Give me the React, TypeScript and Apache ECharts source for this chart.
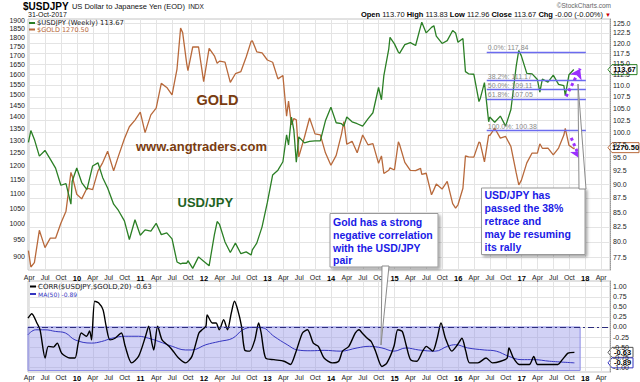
import React, { useEffect, useRef } from 'react';
import * as echarts from 'echarts';

const FONT = '"Liberation Sans", Arial, sans-serif';
const MONO = '"DejaVu Sans", Verdana, sans-serif';

// Weekly/month-end closes (USD/JPY and Gold)
const DATES = [
  '2009-03-27', '2009-04-10', '2009-04-30', '2009-05-29', '2009-06-30', '2009-07-31', '2009-08-31', '2009-09-30',
  '2009-10-30', '2009-11-27', '2009-12-04', '2009-12-31', '2010-01-29', '2010-02-26', '2010-03-31', '2010-04-30',
  '2010-05-28', '2010-06-25', '2010-07-30', '2010-08-27', '2010-09-30', '2010-10-29', '2010-11-30', '2010-12-31',
  '2011-01-28', '2011-02-28', '2011-03-31', '2011-04-29', '2011-05-31', '2011-06-30', '2011-07-29', '2011-08-19',
  '2011-08-31', '2011-09-23', '2011-09-30', '2011-10-28', '2011-11-30', '2011-12-30', '2012-01-31', '2012-02-29',
  '2012-03-16', '2012-03-30', '2012-04-30', '2012-05-31', '2012-06-29', '2012-07-31', '2012-08-31', '2012-09-28',
  '2012-10-05', '2012-10-31', '2012-11-30', '2012-12-31', '2013-01-31', '2013-02-28', '2013-03-29', '2013-04-19',
  '2013-04-30', '2013-05-17', '2013-05-31', '2013-06-14', '2013-06-28', '2013-07-31', '2013-08-30', '2013-09-30',
  '2013-10-31', '2013-11-29', '2013-12-31', '2014-01-31', '2014-02-28', '2014-03-14', '2014-03-31', '2014-04-30',
  '2014-05-30', '2014-06-30', '2014-07-31', '2014-08-29', '2014-09-30', '2014-10-17', '2014-10-31', '2014-11-28',
  '2014-12-05', '2014-12-31', '2015-01-23', '2015-01-30', '2015-02-27', '2015-03-31', '2015-04-30', '2015-05-29',
  '2015-06-05', '2015-06-30', '2015-07-31', '2015-08-14', '2015-08-28', '2015-09-30', '2015-10-30', '2015-11-30',
  '2015-12-17', '2015-12-31', '2016-01-29', '2016-02-12', '2016-02-29', '2016-03-31', '2016-04-29', '2016-05-06',
  '2016-05-31', '2016-06-24', '2016-06-30', '2016-07-29', '2016-08-31', '2016-09-30', '2016-10-31', '2016-11-30',
  '2016-12-15', '2016-12-30', '2017-01-31', '2017-02-28', '2017-03-31', '2017-04-14', '2017-04-28', '2017-05-31',
  '2017-06-30', '2017-07-31', '2017-08-31', '2017-09-08', '2017-09-29', '2017-10-27', '2017-10-31',
];
const USDJPY = [
  98.0, 100.4, 98.6, 95.3, 96.4, 94.7, 93.0, 89.8,
  90.1, 86.4, 90.5, 93.0, 90.3, 89.0, 93.4, 94.0,
  91.2, 89.3, 86.4, 85.3, 83.5, 80.4, 83.7, 81.1,
  82.0, 81.8, 83.1, 81.2, 81.5, 80.5, 76.8, 76.5,
  76.6, 76.6, 77.0, 75.8, 77.6, 76.9, 76.2, 81.2,
  83.4, 82.9, 80.0, 78.3, 79.8, 78.1, 78.4, 77.9,
  78.7, 79.8, 82.5, 86.7, 91.7, 92.6, 94.2, 99.5,
  97.5, 103.2, 100.5, 94.1, 99.1, 97.9, 98.2, 98.3,
  98.3, 102.4, 105.3, 102.0, 101.8, 101.3, 103.2, 102.2,
  101.8, 101.3, 102.8, 104.1, 109.6, 106.9, 112.3, 118.6,
  121.4, 119.8, 117.8, 117.5, 119.6, 120.1, 119.4, 124.1,
  125.2, 122.5, 123.9, 124.3, 121.7, 119.9, 120.6, 123.1,
  122.5, 120.2, 121.1, 113.2, 112.7, 112.6, 106.5, 107.1,
  110.7, 102.2, 103.2, 102.1, 103.4, 101.3, 104.8, 114.5,
  118.2, 116.9, 112.8, 112.7, 111.4, 108.6, 111.5, 110.8,
  112.4, 110.3, 110.0, 107.8, 112.5, 113.7, 113.67,
];
const GOLD = [
  918, 872, 884, 979, 927, 955, 955, 1001,
  1040, 1175, 1162, 1097, 1081, 1118, 1113, 1180,
  1212, 1256, 1181, 1237, 1307, 1357, 1386, 1421,
  1332, 1409, 1439, 1556, 1536, 1500, 1628, 1852,
  1826, 1656, 1620, 1745, 1746, 1565, 1738, 1697,
  1658, 1669, 1664, 1561, 1604, 1615, 1691, 1776,
  1780, 1719, 1713, 1675, 1663, 1578, 1595, 1403,
  1472, 1365, 1393, 1387, 1234, 1313, 1395, 1327,
  1323, 1250, 1202, 1240, 1326, 1379, 1284, 1296,
  1250, 1322, 1282, 1287, 1209, 1238, 1171, 1183,
  1192, 1184, 1294, 1283, 1213, 1183, 1182, 1190,
  1168, 1172, 1095, 1113, 1133, 1115, 1142, 1065,
  1050, 1061, 1118, 1238, 1234, 1233, 1293, 1290,
  1215, 1322, 1320, 1351, 1309, 1316, 1275, 1173,
  1130, 1146, 1211, 1249, 1249, 1286, 1268, 1269,
  1242, 1269, 1322, 1350, 1280, 1266, 1270.5,
];

// 20-week correlation and its 50-period MA (x in decimal years)
const CORR_T = [
  2009.23, 2009.29, 2009.37, 2009.42, 2009.5, 2009.55, 2009.63, 2009.69, 2009.76, 2009.89, 2009.97,
  2010.02, 2010.07, 2010.15, 2010.2, 2010.23, 2010.28, 2010.34, 2010.41, 2010.46, 2010.52, 2010.6,
  2010.7, 2010.76, 2010.86, 2010.97, 2011.08, 2011.13, 2011.18, 2011.21, 2011.27, 2011.34, 2011.45,
  2011.5, 2011.6, 2011.71, 2011.81, 2011.92, 2011.97, 2012.03, 2012.05, 2012.13, 2012.19, 2012.24,
  2012.31, 2012.37, 2012.43, 2012.48, 2012.53, 2012.59, 2012.64, 2012.72, 2012.8, 2012.86, 2012.9,
  2012.97, 2013.1, 2013.26, 2013.36, 2013.44, 2013.55, 2013.63, 2013.72, 2013.8, 2013.89, 2014.02,
  2014.12, 2014.18, 2014.28, 2014.38, 2014.44, 2014.49, 2014.57, 2014.63, 2014.7, 2014.8, 2014.88,
  2014.99, 2015.05, 2015.12, 2015.18, 2015.25, 2015.35, 2015.44, 2015.5, 2015.6, 2015.67, 2015.73,
  2015.8, 2015.9, 2015.99, 2016.06, 2016.12, 2016.18, 2016.31, 2016.44, 2016.54, 2016.67, 2016.77,
  2016.8, 2016.87, 2016.96, 2017.12, 2017.19, 2017.25, 2017.44, 2017.57, 2017.64, 2017.73, 2017.83,
];
const CORR = [
  0.22, 0.33, 0.1, -0.07, -0.77, -0.48, -0.5, -0.4, -0.65, -0.77, -0.77,
  -0.4, -0.15, -0.23, -0.1, -0.32, 0.64, 0.6, 0.43, 0.02, -0.32, -0.28,
  -0.15, -0.48, -0.89, -0.73, -0.23, 0.02, -0.4, -0.57, 0.02, -0.32, -0.48,
  -0.57, -0.77, -0.89, -0.73, -0.15, -0.07, 0.02, 0.3, 0.1, 0.1, -0.07,
  0.18, -0.07, 0.35, 0.64, 0.43, 0.02, -0.57, -0.6, -0.32, 0.1, -0.15,
  -0.77, -0.81, -0.85, -0.93, -0.65, -0.15, -0.07, -0.4, -0.48, -0.77, -0.89,
  -0.85, -0.6, -0.48, -0.15, -0.07, -0.15, -0.28, -0.36, -0.6, -0.98, -0.89,
  -0.48, -0.07, -0.11, -0.44, -0.81, -0.85, -0.6, -0.48, -0.6, -0.28, 0.1,
  -0.28, -0.6, -0.44, -0.28, -0.6, -0.89, -0.89, -0.77, -0.89, -0.85, -0.77,
  -0.52, -0.77, -0.93, -0.93, -0.73, -0.93, -0.93, -0.93, -0.81, -0.65, -0.63,
];
const MA_T = [
  2009.23, 2009.35, 2009.5, 2009.66, 2009.82, 2009.97, 2010.23, 2010.39, 2010.55, 2010.76, 2010.97,
  2011.13, 2011.29, 2011.5, 2011.71, 2011.81, 2012.03, 2012.24, 2012.45, 2012.61, 2012.76, 2012.92,
  2013.1, 2013.31, 2013.47, 2013.68, 2013.89, 2014.15, 2014.41, 2014.6, 2014.8, 2014.99, 2015.18,
  2015.38, 2015.64, 2015.83, 2015.96, 2016.15, 2016.41, 2016.6, 2016.8, 2016.99, 2017.19, 2017.44, 2017.83,
];
const MA50 = [
  -0.19, -0.07, -0.07, -0.11, -0.15, -0.32, -0.4, -0.36, -0.28, -0.23, -0.23,
  -0.28, -0.36, -0.48, -0.57, -0.57, -0.44, -0.36, -0.28, -0.07, -0.01, -0.02,
  -0.23, -0.44, -0.57, -0.59, -0.58, -0.6, -0.52, -0.48, -0.52, -0.6, -0.52,
  -0.57, -0.6, -0.48, -0.44, -0.52, -0.57, -0.6, -0.73, -0.81, -0.81, -0.85, -0.89,
];

const GOLD_TICKS = [900, 950, 1000, 1050, 1100, 1150, 1200, 1250, 1300, 1350, 1400, 1450, 1500, 1550, 1600, 1650, 1700, 1750, 1800, 1850, 1900];
const FX_TICKS = [77.5, 80, 82.5, 85, 87.5, 90, 92.5, 95, 97.5, 100, 102.5, 105, 107.5, 110, 112.5, 115, 117.5, 120, 122.5, 125];
const CORR_TICKS = [-1, -0.75, -0.5, -0.25, 0, 0.25, 0.5, 0.75, 1];
const QUARTER_TICKS = [
  2009.25, 2009.5, 2009.75, 2010, 2010.25, 2010.5, 2010.75, 2011, 2011.25, 2011.5, 2011.75, 2012,
  2012.25, 2012.5, 2012.75, 2013, 2013.25, 2013.5, 2013.75, 2014, 2014.25, 2014.5, 2014.75, 2015,
  2015.25, 2015.5, 2015.75, 2016, 2016.25, 2016.5, 2016.75, 2017, 2017.25, 2017.5, 2017.75, 2018, 2018.25,
];
const QUARTER_NAMES = ['', 'Apr', 'Jul', 'Oct'];

const FIB_LEVELS = [117.84, 111.17, 109.11, 107.05, 100.38];
const FIB_NAMES = ['0.0%', '38.2%', '50.0%', '61.8%', '100.0%'];
const FIB_START = 2016.45;
const FIB_END = 2018.01;
const ARROWS = [
  [[2017.7, 107.6], [2017.92, 113.9]],
  [[2017.78, 98.9], [2017.92, 94.8]],
];
const SHADE_END = 2017.92;
const SHADE_BOTTOM = -1.08;

const XMIN = 2009.23;
const XMAX = 2018.39;

function toT(d: string) {
  const [y, m, dd] = d.split('-').map(Number);
  const dim = new Date(Date.UTC(y, m, 0)).getUTCDate();
  return y + (m - 1 + (dd - 1) / dim) / 12;
}

function qFmt(v: number) {
  const yr = Math.floor(v + 1e-6);
  const q = Math.round((v - yr) * 4);
  if (q === 0) return '{y|' + String(yr).slice(2) + '}';
  return QUARTER_NAMES[q];
}

export default function App() {
  const ref = useRef<HTMLDivElement>(null);
  useEffect(() => {
    if (!ref.current) return;
    const chart = echarts.init(ref.current, undefined, { renderer: 'svg' });
    const fxData = DATES.map((d, i) => [toT(d), Math.log(USDJPY[i])]);
    const goldData = DATES.map((d, i) => [toT(d), Math.log(GOLD[i])]);
    const corrData = CORR_T.map((t, i) => [t, CORR[i]]);
    const maData = MA_T.map((t, i) => [t, MA50[i]]);

    const lg = (a: number[]) => a.map((v) => Math.log(v));
    const fxMin = 4.3248, fxMax = 4.8365;
    const gMin = 6.7614, gMax = 7.5528;

    const xAxisBase = (gi: number, margin: number) => ({
      type: 'value',
      gridIndex: gi,
      min: XMIN,
      max: XMAX,
      axisLine: { show: false },
      axisTick: { show: false, customValues: QUARTER_TICKS },
      axisLabel: {
        customValues: QUARTER_TICKS,
        formatter: qFmt,
        fontSize: 7,
        fontFamily: FONT,
        color: '#222',
        margin,
        rich: { y: { fontSize: 7.5, fontWeight: 'bold', color: '#000', fontFamily: FONT } },
      },
      splitLine: { show: true, lineStyle: { color: '#e4e4e4', width: 1 } },
    });

    const axisLabelBase = { fontSize: 7, fontFamily: FONT, color: '#222', margin: 3 };

    const option: any = {
      animation: false,
      backgroundColor: '#fff',
      textStyle: { fontFamily: FONT },
      grid: [
        { left: 28, right: 30, top: 19, height: 251, show: true, borderColor: '#c4c4c4', borderWidth: 1, backgroundColor: 'transparent' },
        { left: 28, right: 30, top: 281, height: 91, show: true, borderColor: '#c4c4c4', borderWidth: 1, backgroundColor: 'transparent' },
      ],
      xAxis: [xAxisBase(0, 4), xAxisBase(1, 2)],
      yAxis: [
        {
          type: 'value', gridIndex: 0, position: 'left', min: gMin, max: gMax,
          axisLine: { show: false }, axisTick: { show: false, customValues: lg(GOLD_TICKS) },
          axisLabel: { ...axisLabelBase, customValues: lg(GOLD_TICKS), formatter: (v: number) => String(Math.round(Math.exp(v))) },
          splitLine: { show: false },
        },
        {
          type: 'value', gridIndex: 0, position: 'right', min: fxMin, max: fxMax,
          axisLine: { show: true, lineStyle: { color: '#999', type: 'dotted' } },
          axisTick: { show: false, customValues: lg(FX_TICKS) },
          axisLabel: { ...axisLabelBase, customValues: lg(FX_TICKS), formatter: (v: number) => Math.exp(v).toFixed(1) },
          splitLine: { show: true, lineStyle: { color: '#e4e4e4', width: 1 } },
        },
        {
          type: 'value', gridIndex: 1, position: 'right', min: -1.117, max: 1.141,
          axisLine: { show: true, lineStyle: { color: '#999', type: 'dotted' } },
          axisTick: { show: false, customValues: CORR_TICKS },
          axisLabel: { ...axisLabelBase, customValues: CORR_TICKS, formatter: (v: number) => v.toFixed(2) },
          splitLine: { show: true, lineStyle: { color: '#e4e4e4', width: 1 } },
        },
      ],
      series: [
        {
          type: 'line', name: 'GOLD', xAxisIndex: 0, yAxisIndex: 0, data: goldData,
          symbol: 'none', lineStyle: { color: '#b8693b', width: 1.3 }, z: 2,
        },
        {
          type: 'line', name: 'USDJPY', xAxisIndex: 0, yAxisIndex: 1, data: fxData,
          symbol: 'none', lineStyle: { color: '#2b7f25', width: 1.3 }, z: 3,
          markLine: {
            silent: true, symbol: 'none',
            lineStyle: { color: '#6b6bf0', width: 1.3, type: 'solid' },
            label: {
              show: true, position: 'insideStartTop', distance: 1, fontSize: 7, fontFamily: FONT,
              color: '#8a8a8a', formatter: (p: any) => p.name,
            },
            data: FIB_LEVELS.map((v, i) => [
              { name: FIB_NAMES[i] + ': ' + v.toFixed(2), coord: [FIB_START, Math.log(v)] },
              { coord: [FIB_END, Math.log(v)] },
            ]),
          },
        },
        {
          type: 'line', name: 'arrows', xAxisIndex: 0, yAxisIndex: 1, data: [],
          symbol: 'none', z: 5,
          markLine: {
            silent: true, symbol: ['none', 'arrow'], symbolSize: 10,
            lineStyle: { color: '#9b30ff', width: 3, type: 'dotted' },
            label: { show: false },
            data: ARROWS.map((a) => [
              { coord: [a[0][0], Math.log(a[0][1])] },
              { coord: [a[1][0], Math.log(a[1][1])] },
            ]),
          },
        },
        {
          type: 'line', name: 'CORR', xAxisIndex: 1, yAxisIndex: 2, data: corrData,
          symbol: 'none', smooth: 0.25, lineStyle: { color: '#000', width: 1.4 }, z: 4,
          markArea: {
            silent: true,
            itemStyle: { color: 'rgba(140,140,230,0.4)', borderColor: '#8c8ce6', borderWidth: 1 },
            data: [[{ coord: [XMIN, 0] }, { coord: [SHADE_END, SHADE_BOTTOM] }]],
          },
          markLine: {
            silent: true, symbol: 'none', label: { show: false },
            lineStyle: { color: '#2c2c7c', width: 1, type: [6, 3, 2, 3] },
            data: [{ yAxis: 0 }],
          },
        },
        {
          type: 'line', name: 'MA50', xAxisIndex: 1, yAxisIndex: 2, data: maData,
          symbol: 'none', smooth: 0.4, lineStyle: { color: '#3535c0', width: 1 }, z: 3,
        },
      ],
    };
    chart.setOption(option);

    const lastFx = USDJPY[USDJPY.length - 1];
    const lastGold = GOLD[GOLD.length - 1];
    const lastCorr = CORR[CORR.length - 1];
    const lastMa = MA50[MA50.length - 1];
    const yFx = chart.convertToPixel({ yAxisIndex: 1 } as any, Math.log(lastFx)) as any as number;
    const yGold = chart.convertToPixel({ yAxisIndex: 0 } as any, Math.log(lastGold)) as any as number;
    const yCorr = chart.convertToPixel({ yAxisIndex: 2 } as any, lastCorr) as any as number;
    const yMa = chart.convertToPixel({ yAxisIndex: 2 } as any, lastMa) as any as number;

    const tag = (y: number, label: string, stroke: string, w = 29) => ({
      type: 'group', x: 608, y, z: 120,
      children: [
        {
          type: 'polygon',
          shape: { points: [[0, 0], [4, -5], [w, -5], [w, 5], [4, 5]] },
          style: { fill: '#fff', stroke, lineWidth: 1 },
        },
        {
          type: 'text', x: (w + 4) / 2, y: 0,
          style: { text: label, fontSize: 7.5, fontWeight: 'bold', fontFamily: FONT, fill: '#000', align: 'center', verticalAlign: 'middle' },
        },
      ],
    });

    const t = (x: number, y: number, style: any, z = 110) => ({ type: 'text', x, y, z, style: { verticalAlign: 'middle', fontFamily: FONT, ...style } });

    const graphic: any[] = [
      t(23, 6.5, {
        text: '{a|$USDJPY} {b|US Dollar to Japanese Yen (EOD)} {c|INDX}',
        rich: {
          a: { fontSize: 10, fontWeight: 'bold', fill: '#000', fontFamily: FONT },
          b: { fontSize: 7.5, fill: '#111', fontFamily: FONT },
          c: { fontSize: 6.5, fill: '#111', fontFamily: FONT },
        },
      }),
      t(28, 14.5, { text: '31-Oct-2017', fontSize: 7, fill: '#111' }),
      t(611, 5.5, { text: '©StockCharts.com', fontSize: 6.5, fill: '#666', align: 'right' }),
      t(611, 14.5, {
        text: '{b|Open} ' + '113.70 ' + '{b|High} 113.83 {b|Low} 112.96 {b|Close} ' + lastFx.toFixed(2) + ' {b|Chg} -0.00 (-0.00%) {r|▼}',
        align: 'right', fontSize: 7.5, fill: '#111',
        rich: { b: { fontWeight: 'bold', fontSize: 7.5, fill: '#000', fontFamily: FONT }, r: { fontSize: 6, fill: '#cc0000' } },
      }),
      { type: 'line', z: 110, shape: { x1: 29, y1: 23, x2: 35, y2: 23 }, style: { stroke: '#2b7f25', lineWidth: 2 } },
      t(37, 23, { text: '$USDJPY (Weekly) ' + lastFx.toFixed(2), fontSize: 6.8, fill: '#222', fontFamily: MONO }),
      { type: 'line', z: 110, shape: { x1: 29, y1: 29.5, x2: 35, y2: 29.5 }, style: { stroke: '#b8693b', lineWidth: 2 } },
      t(37, 29.5, { text: '$GOLD ' + lastGold.toFixed(2), fontSize: 6.5, fill: '#b8693b', fontFamily: MONO }),
      { type: 'line', z: 110, shape: { x1: 30, y1: 286.5, x2: 36, y2: 286.5 }, style: { stroke: '#000', lineWidth: 2 } },
      t(38, 286.5, { text: 'CORR($USDJPY,$GOLD,20) ' + lastCorr.toFixed(2), fontSize: 7, fill: '#222', fontFamily: MONO }),
      { type: 'line', z: 110, shape: { x1: 30, y1: 294, x2: 36, y2: 294 }, style: { stroke: '#3535c0', lineWidth: 2 } },
      t(38, 294, { text: 'MA(50) ' + lastMa.toFixed(2), fontSize: 6, fill: '#3535c0', fontFamily: MONO }),

      t(196.5, 99.5, { text: 'GOLD', fontSize: 14.5, fontWeight: 'bold', fill: '#7a3c10' }),
      t(136, 146.5, { text: 'www.angtraders.com', fontSize: 13, fontWeight: 'bold', fill: '#7a3c10' }),
      t(177.5, 202, { text: 'USD/JPY', fontSize: 13, fontWeight: 'bold', fill: '#1f631f' }),

      {
        type: 'polygon', z: 108,
        shape: { points: [[382, 266], [389, 266], [381, 345]] },
        style: { fill: '#fff', stroke: '#8a8a8a', lineWidth: 1 },
      },
      {
        type: 'group', x: 330, y: 213.5, z: 112,
        children: [
          {
            type: 'rect', shape: { x: 0, y: 0, width: 108, height: 53.5 },
            style: { fill: '#fff', stroke: '#9a9a9a', lineWidth: 1, shadowBlur: 3, shadowOffsetX: 2, shadowOffsetY: 2, shadowColor: 'rgba(0,0,0,0.35)' },
          },
          {
            type: 'text', x: 3, y: 2.5,
            style: {
              text: 'Gold has a strong\nnegative correlation\nwith the USD/JPY\npair',
              fontSize: 10.5, fontWeight: 'bold', fontFamily: FONT, fill: '#1a1ae6', lineHeight: 12.7, verticalAlign: 'top',
            },
          },
        ],
      },
      {
        type: 'polygon', z: 108,
        shape: { points: [[579, 189], [586, 189], [578, 84]] },
        style: { fill: '#fff', stroke: '#8a8a8a', lineWidth: 1 },
      },
      {
        type: 'group', x: 481.5, y: 188, z: 112,
        children: [
          {
            type: 'rect', shape: { x: 0, y: 0, width: 103.5, height: 66.5 },
            style: { fill: '#fff', stroke: '#9a9a9a', lineWidth: 1, shadowBlur: 3, shadowOffsetX: 2, shadowOffsetY: 2, shadowColor: 'rgba(0,0,0,0.35)' },
          },
          {
            type: 'text', x: 3, y: 0.5,
            style: {
              text: 'USD/JPY has\npassed the 38%\nretrace and\nmay be resuming\nits rally',
              fontSize: 10.5, fontWeight: 'bold', fontFamily: FONT, fill: '#1a1ae6', lineHeight: 13, verticalAlign: 'top',
            },
          },
        ],
      },
      tag(yFx, lastFx.toFixed(2), '#2b7f25'),
      tag(yGold, lastGold.toFixed(2), '#b8693b', 31),
      tag(yCorr, lastCorr.toFixed(2), '#555', 25),
      tag(yMa, lastMa.toFixed(2), '#3535c0', 25),
    ];
    chart.setOption({ graphic });

    return () => chart.dispose();
  }, []);

  return <div ref={ref} style={{ position: 'absolute', left: 0, top: 0, width: 640, height: 382 }} />;
}
